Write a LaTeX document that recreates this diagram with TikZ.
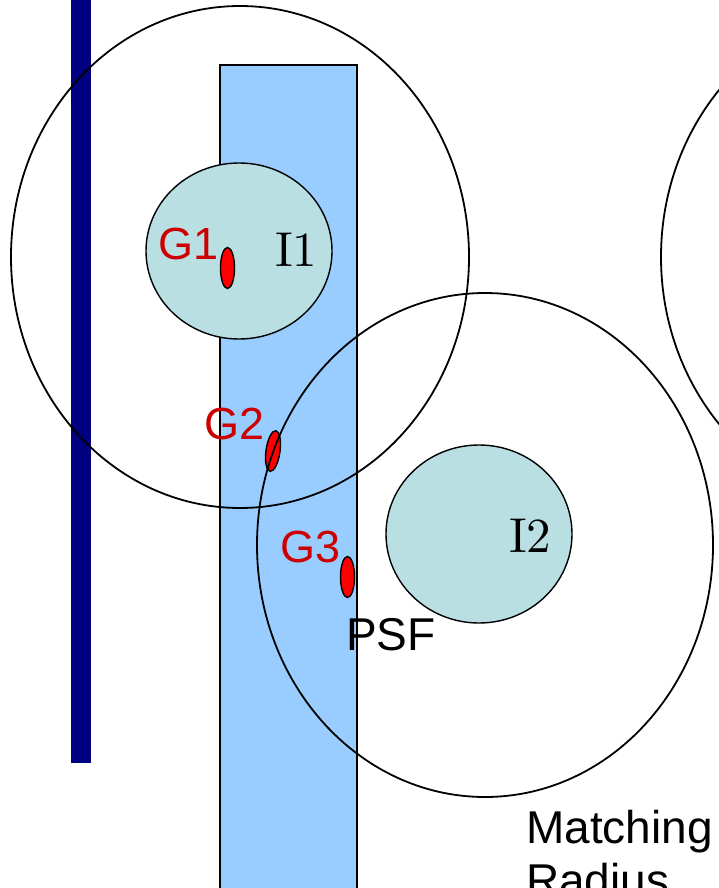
\documentclass[tikz,border=0pt]{standalone}
\usepackage{fontspec}
\setsansfont{Liberation Sans}
\newfontfamily\cmten[Extension=.otf]{lmroman10-regular}
\definecolor{barnavy}{RGB}{0,0,128}
\definecolor{psfblue}{RGB}{153,204,255}
\definecolor{imgteal}{RGB}{185,223,227}
\definecolor{lblred}{RGB}{204,0,0}
\definecolor{galred}{RGB}{255,0,0}
\tikzset{
  radiusring/.style={draw=black, line width=1.8pt},
  imgdisc/.style={draw=black, line width=1.4pt, fill=imgteal},
  galaxy/.style={draw=black, line width=1.4pt, fill=galred},
  glabel/.style={inner sep=0pt, anchor=base west, text=lblred, font=\sffamily\fontsize{45}{53}\selectfont},
  ilabel/.style={inner sep=0pt, anchor=base west, font=\cmten\fontsize{49}{56}\selectfont},
  blabel/.style={inner sep=0pt, anchor=base west, font=\sffamily\fontsize{46}{53}\selectfont},
}
\begin{document}
\begin{tikzpicture}[x=1pt, y=-1pt]
\useasboundingbox (0,0) rectangle (719,888);
\fill[white] (0,0) rectangle (719,888);
% vertical navy bar
\fill[barnavy] (71,0) rectangle (91,763);
% PSF strip
\draw[fill=psfblue, line width=1.6pt] (220,65) rectangle (357,900);
% image discs
\draw[imgdisc] (239,251) ellipse [x radius=93, y radius=88];
\draw[imgdisc] (479,534) ellipse [x radius=93, y radius=89];
% galaxies
\draw[galaxy] (227.5,268) ellipse [x radius=7, y radius=20.5];
\draw[galaxy, rotate around={-8:(273,451)}] (273,451) ellipse [x radius=7, y radius=20.5];
\draw[galaxy] (347.5,577) ellipse [x radius=7, y radius=20.5];
% labels
\node[glabel] (g1) at (158,259) {G1};
\node[glabel] (g2) at (204,439) {G2};
\node[glabel] (g3) at (280,562) {G3};
\node[ilabel] (i1) at (275,266) {I1};
\node[ilabel] (i2) at (509,552) {I2};
\node[blabel] (psf) at (346,650) {PSF};
\node[blabel] (match) at (526,843) {Matching};
\node[blabel] (radius) at (526,896) {Radius};
% matching radii
\draw[radiusring] (240,257) ellipse [x radius=229, y radius=251];
\draw[radiusring] (485,545) ellipse [x radius=228, y radius=252];
\draw[radiusring] (890,257) ellipse [x radius=229, y radius=251];
\end{tikzpicture}
\end{document}
